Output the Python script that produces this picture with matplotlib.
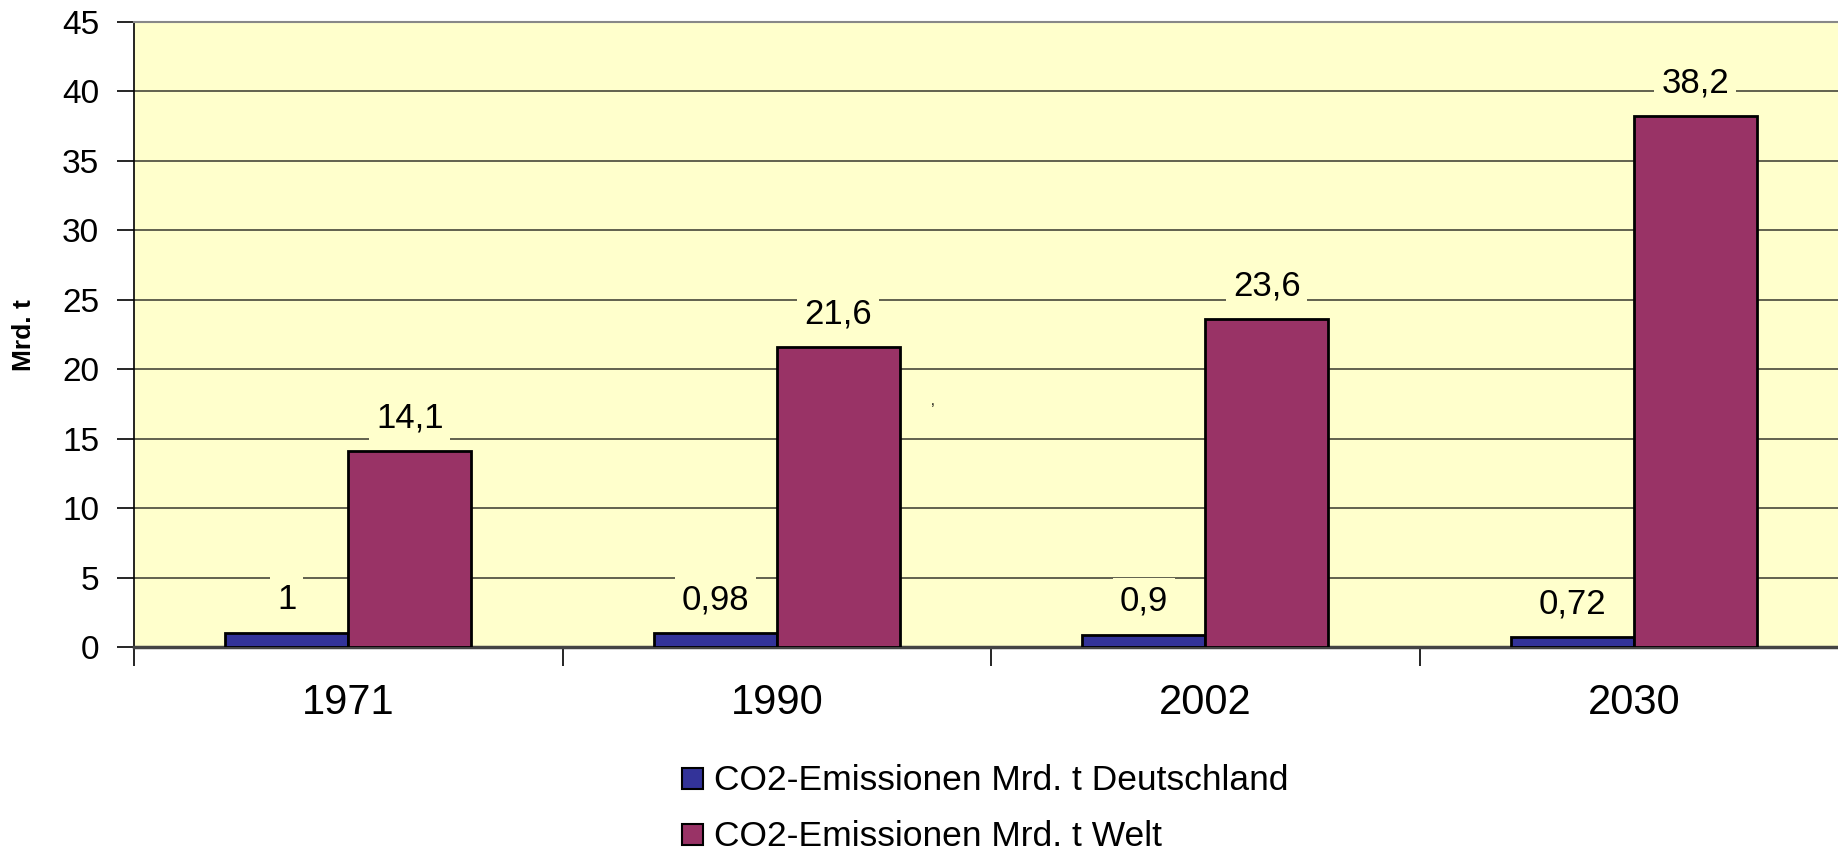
import matplotlib
matplotlib.use("Agg")
import matplotlib.pyplot as plt
from matplotlib.patches import Rectangle
import numpy as np

# -----------------------------
# DATA
# -----------------------------
years = ["1971", "1990", "2002", "2030"]
germany = [1.0, 0.98, 0.9, 0.72]
world = [14.1, 21.6, 23.6, 38.2]
series_names = ["CO2-Emissionen Mrd. t Deutschland", "CO2-Emissionen Mrd. t Welt"]
y_ticks = [0, 5, 10, 15, 20, 25, 30, 35, 40, 45]

plt.rcParams["font.family"] = ["Liberation Sans", "DejaVu Sans"]

W, H = 1838, 851
BG = "#FFFFCC"
COLORS = ["#333399", "#993366"]


def de_fmt(v):
    return ("%g" % v).replace(".", ",")


# -----------------------------
# FIGURE
# -----------------------------
fig = plt.figure(figsize=(W / 100, H / 100), dpi=100)
ax = fig.add_axes([134 / W, 1 - 647 / H, (1848 - 134) / W, (647 - 22) / H])
ax.set_facecolor(BG)

x = np.arange(len(years))
w = 0.287

bars_de = ax.bar(x - w / 2, germany, w, color=COLORS[0], edgecolor="black",
                 linewidth=2, zorder=3)
bars_w = ax.bar(x + w / 2, world, w, color=COLORS[1], edgecolor="black",
                linewidth=2, zorder=3)

# value labels, decimal comma, with background box over the grid lines
for bars, vals in [(bars_de, germany), (bars_w, world)]:
    for b, v in zip(bars, vals):
        ax.annotate(de_fmt(v), (b.get_x() + b.get_width() / 2, v),
                    xytext=(0, 12), textcoords="offset points",
                    ha="center", va="bottom", fontsize=25, zorder=4,
                    bbox=dict(boxstyle="square,pad=0.2", facecolor=BG,
                              edgecolor="none"))

ax.set_xlim(-0.5, len(years) - 0.5)
ax.set_ylim(0, 45)
ax.set_yticks(y_ticks)
ax.tick_params(axis="y", labelsize=24, length=12, width=1.2, pad=13)
ax.yaxis.grid(True, color="#555544", linewidth=1.3, zorder=0)

ax.set_xticks(x)
ax.set_xticklabels(years, fontsize=30)
ax.tick_params(axis="x", which="major", length=0, pad=26)
ax.set_xticks(np.arange(len(years) + 1) - 0.5, minor=True)
ax.tick_params(axis="x", which="minor", length=14, width=1.2)

ax.spines["right"].set_visible(False)
ax.spines["top"].set_color("#888888")
ax.spines["top"].set_linewidth(1.5)
ax.spines["bottom"].set_color("#444444")
ax.spines["bottom"].set_linewidth(2.5)
ax.spines["left"].set_linewidth(1.2)

fig.text(24 / W, 1 - 335 / H, "Mrd. t", rotation=90, fontsize=19,
         fontweight="bold", ha="center", va="center")

# stray comma mark in the original
fig.text(933 / W, 1 - 401 / H, ",", fontsize=10, ha="center", va="center")

# legend, drawn by hand below the axis
for i, (name, col) in enumerate(zip(series_names, COLORS)):
    y0 = 789 + 56 * i
    fig.patches.append(Rectangle((682 / W, 1 - y0 / H), 21 / W, 21 / H,
                                 transform=fig.transFigure, facecolor=col,
                                 edgecolor="black", linewidth=1.5))
    fig.text(714 / W, 1 - (y0 + 1) / H, name, fontsize=25.5,
             ha="left", va="baseline")

fig.savefig("out.png", dpi=100)
